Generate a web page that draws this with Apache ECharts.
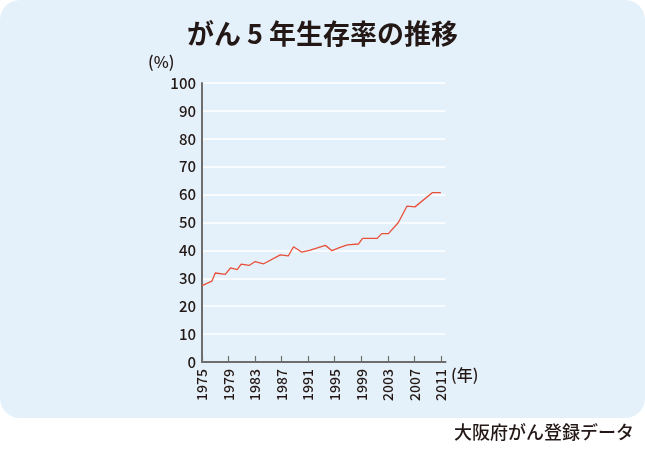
<!DOCTYPE html>
<html><head><meta charset="utf-8">
<script src="https://cdn.jsdelivr.net/npm/echarts@6/dist/echarts.min.js"></script>
<style>html,body{margin:0;padding:0;background:#fff}#c{width:645px;height:452px}</style>
</head><body><div id="c"></div>
<script>
var years = [1975.0,1976.5,1977.0,1978.5,1979.3,1980.3,1980.9,1982.1,1983.0,1984.3,1986.8,1988.0,1988.8,1990.0,1991.2,1993.6,1994.6,1995.6,1996.9,1998.6,1999.2,2001.4,2002.1,2003.1,2004.6,2005.9,2007.1,2009.7,2011.0];
var survival = [27.4,29.0,31.9,31.4,33.7,33.1,35.1,34.6,36.0,35.2,38.4,38.0,41.3,39.4,40.0,41.8,39.9,40.9,42.0,42.3,44.3,44.3,46.0,46.0,50.0,55.9,55.6,60.7,60.7];
var xTickLabels = [1975,1979,1983,1987,1991,1995,1999,2003,2007,2011];
var titleText = 'がん 5 年生存率の推移';
var sourceText = '大阪府がん登録データ';

var FONT = '"Noto Sans CJK JP","Noto Sans",sans-serif';
var chart = echarts.init(document.getElementById('c'), null, {renderer:'canvas'});
var pts = years.map(function(y,i){return [y, survival[i]];});
chart.setOption({
  animation:false,
  backgroundColor:'#ffffff',
  graphic:[
    {type:'rect', z:-10, shape:{x:0,y:0,width:645,height:418,r:20}, style:{fill:'#e4f1fa'}},
    {type:'text', left:'center', top:20, style:{text:titleText, fill:'#231815', font:'bold 27px '+FONT}},
    {type:'text', left:148, top:54, style:{text:'(%)', fill:'#231815', font:'500 16px '+FONT}},
    {type:'text', left:451, top:367, style:{text:'(年)', fill:'#231815', font:'500 16px '+FONT}},
    {type:'text', right:11, top:423, style:{text:sourceText, fill:'#231815', font:'500 18px '+FONT}}
  ],
  grid:{left:202, right:199.5, top:83, bottom:90, containLabel:false},
  xAxis:{
    type:'value', min:1975, max:2011.7,
    axisLine:{show:true, lineStyle:{color:'#6e6e6e', width:2}},
    axisTick:{show:true, inside:true, length:6, customValues:xTickLabels, lineStyle:{color:'#6e6e6e', width:1.2}},
    axisLabel:{rotate:90, margin:7, customValues:xTickLabels, formatter:function(v){return String(v);}, color:'#231815', fontSize:14, fontWeight:500, fontFamily:FONT},
    splitLine:{show:false}
  },
  yAxis:{
    type:'value', min:0, max:100, interval:10,
    axisLine:{show:true, lineStyle:{color:'#6e6e6e', width:2}},
    axisTick:{show:false},
    axisLabel:{margin:6, color:'#231815', fontSize:15, fontWeight:500, fontFamily:FONT},
    splitLine:{show:true, lineStyle:{color:'#ffffff', width:1.5}}
  },
  series:[{
    type:'line', data:pts, symbol:'none',
    lineStyle:{color:'#e8503a', width:1.3}
  }]
});
</script></body></html>
